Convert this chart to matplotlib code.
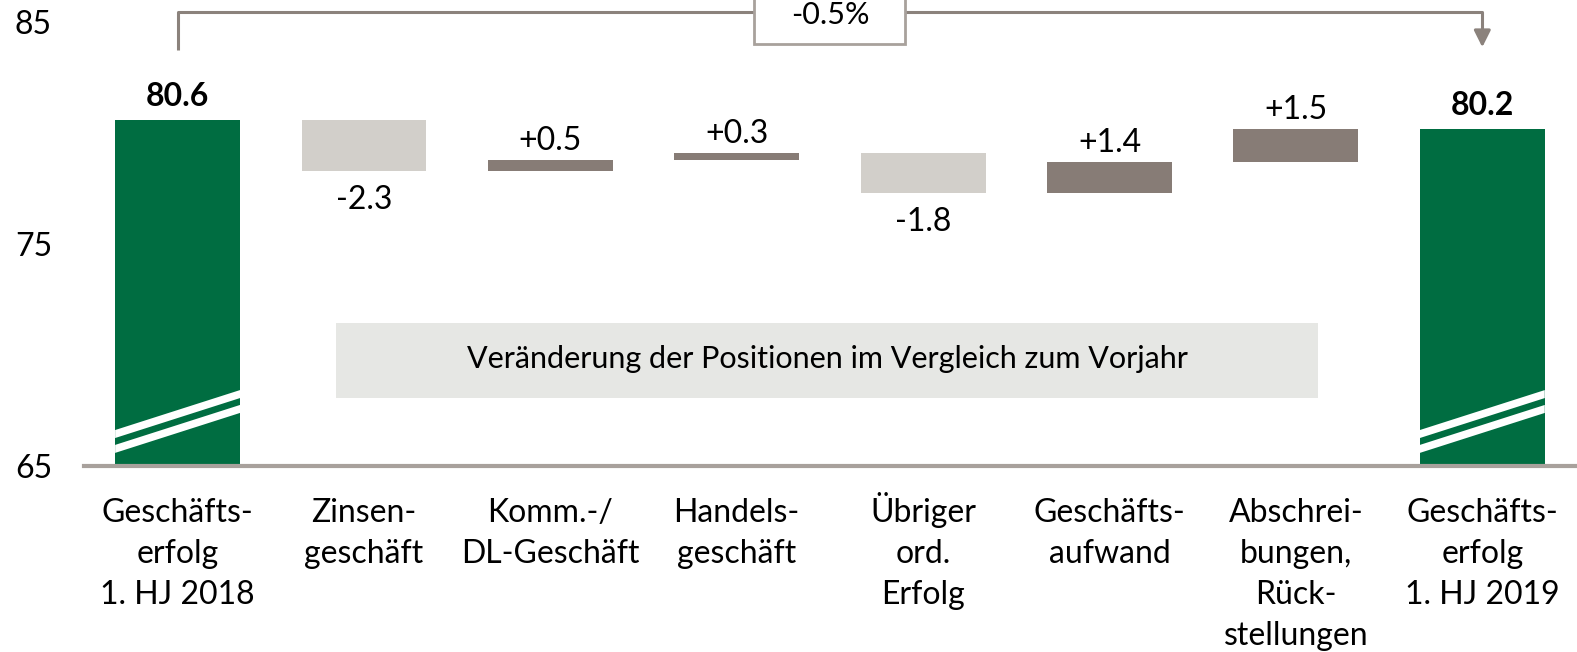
import numpy as np
import matplotlib.pyplot as plt
from matplotlib.patches import Rectangle, Polygon

plt.rcParams['font.family'] = ['Lato', 'DejaVu Sans']

# Daten
categories = ["Geschäfts-\nerfolg\n1. HJ 2018", "Zinsen-\ngeschäft", "Komm.-/\nDL-Geschäft",
              "Handels-\ngeschäft", "Übriger\nord.\nErfolg", "Geschäfts-\naufwand",
              "Abschrei-\nbungen,\nRück-\nstellungen", "Geschäfts-\nerfolg\n1. HJ 2019"]
start_value = 80.6
changes = [-2.3, 0.5, 0.3, -1.8, 1.4, 1.5]
end_value = 80.2
total_change_label = "-0.5%"
box_text = "Veränderung der Positionen im Vergleich zum Vorjahr"
yticks = [65, 75, 85]
y_base = 65

# Farben
GREEN = '#006d41'
NEG = '#d2cfca'
POS = '#877c76'
AXIS = '#a8a19c'
BRACKET = '#8b827c'
BOXFILL = '#e6e7e4'

W, H = 1577, 652
fig = plt.figure(figsize=(W / 100, H / 100), dpi=100)
ax = fig.add_axes([84 / W, (H - 466) / H, (W - 84) / W, 466 / H])
ax.set_xlim(-0.502, 7.508)
ax.set_ylim(65, 65 + 466 / 22.2)

width = 0.67
x = np.arange(len(categories))

# Wasserfall berechnen
levels = start_value + np.concatenate([[0], np.cumsum(changes)])
bottoms = np.minimum(levels[:-1], levels[1:])
heights = np.abs(np.array(changes))

# Summenbalken
for xi, val in [(x[0], start_value), (x[-1], end_value)]:
    ax.bar(xi, val - y_base, width, bottom=y_base, color=GREEN, zorder=2)
    ax.annotate(f"{val:.1f}", (xi, val), xytext=(0, 10), textcoords='offset points',
                ha='center', va='baseline', fontsize=23, fontweight='bold')
    # Achsenbruch-Markierung
    for y0 in [65.77, 66.44]:
        x0, x1 = xi - width / 2, xi + width / 2
        t = 0.36
        ax.add_patch(Polygon([(x0, y0 - t / 2), (x1, y0 + 1.8 - t / 2),
                              (x1, y0 + 1.8 + t / 2), (x0, y0 + t / 2)],
                             closed=True, color='white', lw=0, zorder=3))

# Veränderungsbalken
for xi, b, h, c in zip(x[1:-1], bottoms, heights, changes):
    ax.bar(xi, h, width, bottom=b, color=POS if c > 0 else NEG, zorder=2)
    if c > 0:
        ax.annotate(f"{c:+.1f}", (xi, b + h), xytext=(0, 7), textcoords='offset points',
                    ha='center', va='baseline', fontsize=23)
    else:
        ax.annotate(f"{c:+.1f}", (xi, b), xytext=(0, -10), textcoords='offset points',
                    ha='center', va='top', fontsize=23)

# Grauer Kasten
ax.add_patch(Rectangle((0.85, 68.06), 6.12 - 0.85, 71.44 - 68.06, color=BOXFILL, lw=0, zorder=1))
ax.text((0.85 + 6.12) / 2, 69.8, box_text, ha='center', va='center', fontsize=22)

# Klammer oben
yb = 85.45
ax.plot([x[0], x[0], x[-1], x[-1]], [83.74, yb, yb, 84.5], color=BRACKET, lw=2.2,
        clip_on=False, zorder=2, solid_capstyle='butt')
ax.annotate('', xy=(x[-1], 83.74), xytext=(x[-1], 84.6),
            arrowprops=dict(arrowstyle='-|>', color=BRACKET, lw=2.2, mutation_scale=25),
            annotation_clip=False)
mid = (x[0] + x[-1]) / 2
ax.add_patch(Rectangle((mid - 0.405, 84.01), 0.81, 3, facecolor='white', edgecolor=AXIS,
                       lw=2, clip_on=False, zorder=3))
ax.text(mid, 85.32, total_change_label, ha='center', va='center', fontsize=22, zorder=4)

# Achsen
for s in ['top', 'right', 'left']:
    ax.spines[s].set_visible(False)
ax.spines['bottom'].set_color(AXIS)
ax.spines['bottom'].set_linewidth(3)
ax.spines['bottom'].set_zorder(4)
ax.set_yticks(yticks)
ax.set_yticklabels([str(v) for v in yticks], fontsize=23)
ax.tick_params(axis='y', length=0, pad=23)
ax.set_xticks(x)
ax.set_xticklabels([])
ax.tick_params(axis='x', length=0)

# Kategorienbeschriftung, Zeile für Zeile auf gemeinsamer Grundlinie
for xi, label in zip(x, categories):
    for i, line in enumerate(label.split('\n')):
        ax.annotate(line, (xi, 0), xycoords=ax.get_xaxis_transform(),
                    xytext=(0, -40.5 - i * 29.5), textcoords='offset points',
                    ha='center', va='baseline', fontsize=23, annotation_clip=False)

fig.savefig('out.png', dpi=100)
